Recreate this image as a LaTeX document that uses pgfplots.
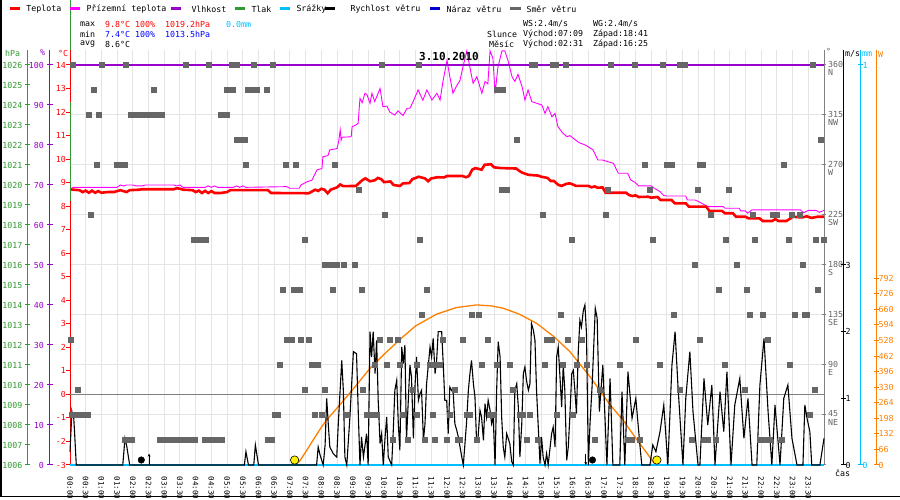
\documentclass[border=0pt]{standalone}
\usepackage{fontspec}
\setmainfont{DejaVu Sans Mono}
\usepackage{pgfplots}
\pgfplotsset{compat=1.18}
\usetikzlibrary{arrows.meta}
\definecolor{tred}{RGB}{255,0,0}
\definecolor{tmag}{RGB}{255,0,255}
\definecolor{tpur}{RGB}{153,0,204}
\definecolor{tgreen}{RGB}{51,153,51}
\definecolor{tcyan}{RGB}{0,191,255}
\definecolor{tblue}{RGB}{0,0,204}
\definecolor{minblue}{RGB}{0,0,255}
\definecolor{torange}{RGB}{255,128,0}
\definecolor{sqgrey}{RGB}{102,102,102}
\definecolor{gridgrey}{RGB}{228,228,228}
\definecolor{axgrey}{RGB}{128,128,128}
\definecolor{dirtext}{RGB}{100,100,100}
\newcommand{\fs}{\fontsize{8.3}{8.6}\selectfont}
\newcommand{\fx}{\fontsize{7.5}{8}\selectfont}
\pgfplotsset{
  base/.style={scale only axis, height=415pt, xmin=0, xmax=24,
    every tick label/.append style={font=\fs},
    tick align=center, major tick length=6pt},
  hid/.style={base, width=754pt, at={(70pt,35pt)}, anchor=south west, hide axis, clip=false},
  narrow/.style={base, width=10pt, xmin=0, xmax=1, axis x line=none, clip=false},
}
\begin{document}
\begin{tikzpicture}[x=1pt,y=1pt,font=\fs]
\useasboundingbox (0,0) rectangle (900,500);
\fill[white] (0,0) rectangle (900,500);
\draw[black, line width=1.5pt] (0.75,500) -- (0.75,3.5) -- (900,3.5);

% ---------- direction axis: horizontal grid + right grey axis
\begin{axis}[base, width=754pt, at={(70pt,35pt)}, anchor=south west,
  ymin=0, ymax=373.5, axis x line=none, axis y line*=right,
  ytick={0,45,90,135,180,225,270,315,360},
  yticklabels={,{45\\NE},{90\\E},{135\\SE},{180\\S},{225\\SW},{270\\W},{315\\NW},{360\\N}},
  ymajorgrids, major grid style={gridgrey, line width=1pt},
  y axis line style={axgrey, line width=1pt}, ytick style={axgrey, line width=1pt},
  major tick length=4pt,
  yticklabel style={text=dirtext, align=left, anchor=north west, inner sep=0pt, xshift=2pt, yshift=4.3pt}]
\end{axis}

% ---------- temperature axis: vertical grid, red axis, time labels
\begin{axis}[base, width=754pt, at={(70pt,35pt)}, anchor=south west,
  ymin=-3, ymax=14.6375, axis y line*=left, axis x line*=bottom,
  x axis line style={draw=none}, xtick style={draw=none},
  xtick={0,0.5,...,23.5},
  xticklabels={00:00,00:30,01:00,01:30,02:00,02:30,03:00,03:30,04:00,04:30,05:00,05:30,06:00,06:30,07:00,07:30,08:00,08:30,09:00,09:30,10:00,10:30,11:00,11:30,12:00,12:30,13:00,13:30,14:00,14:30,15:00,15:30,16:00,16:30,17:00,17:30,18:00,18:30,19:00,19:30,20:00,20:30,21:00,21:30,22:00,22:30,23:00,23:30},
  xticklabel style={font=\fx, rotate=-90, anchor=west, inner sep=0pt, xshift=7.5pt},
  xmajorgrids, major grid style={gridgrey, line width=1pt},
  ytick={-3,-2,-1,0,1,2,3,4,5,6,7,8,9,10,11,12,13,14},
  yticklabels={-3,-2,-1,0,1,2,3,4,5,6,7,8,9,10,11,12,13,14},
  tick align=outside, major tick length=4pt,
  y axis line style={tred, line width=1pt}, ytick style={tred, line width=1pt},
  yticklabel style={text=tred, inner sep=0pt, anchor=east}]
\addplot[axgrey, line width=1pt] coordinates {(0,0) (24,0)};
\end{axis}

% ---------- solar radiation (W)
\begin{axis}[hid, ymin=0, ymax=1760.5]
\addplot[torange, line width=1.3pt] coordinates {(7.15,0) (7.3,15) (7.5,55) (7.74,106) (8.0,160) (8.17,191) (8.49,240) (9.0,320) (9.55,410) (10.0,470) (10.6,544) (11.0,590) (11.67,640) (12.3,668) (12.94,679) (13.4,675) (13.79,665) (14.3,640) (14.85,601) (15.4,545) (15.91,481) (16.55,375) (17.19,255) (17.6,191) (18.05,106) (18.36,51) (18.55,15) (18.68,0)};
\end{axis}

% ---------- precipitation (mm)
\begin{axis}[hid, ymin=0, ymax=1.0375]
\addplot[tcyan, line width=2pt] coordinates {(0,0) (24,0)};
\end{axis}

% ---------- wind speed (m/s)
\begin{axis}[hid, ymin=0, ymax=6.225]
\addplot[black, line width=1.1pt, line join=miter] coordinates {
(0,0.2) (0.06,0.8) (0.09,0.72) (0.12,0.7) (0.15,0.45) (0.2,0) (1.68,0) (1.75,0.4) (1.8,0.3) (1.9,0) (5.55,0) (5.6,0.2) (5.68,0) (5.85,0) (5.9,0.3) (6.0,0) (7.85,0) (7.9,0.27) (7.96,0.15) (8.06,0) (8.12,0.3) (8.17,1.0) (8.22,0.62) (8.27,0.27) (8.38,0.17) (8.49,0.12) (8.54,0.62) (8.65,1.57) (8.7,1.12) (8.75,0.12) (8.81,0) (8.91,0.72) (9.02,1.7) (9.12,1.67) (9.18,0.72) (9.23,0) (9.28,0.42) (9.34,0.12) (9.44,0.47) (9.49,0) (9.55,2.0) (9.6,1.62) (9.65,2.0) (9.71,1.37) (9.76,1.87) (9.81,0.97) (9.87,0.32) (9.92,0.47) (9.97,0) (10.03,0.42) (10.08,0.72) (10.13,0.12) (10.24,0) (10.29,0.52) (10.34,1.12) (10.4,1.27) (10.45,0.62) (10.5,0.22) (10.56,1.77) (10.61,1.52) (10.66,1.8) (10.71,0.37) (10.82,1.5) (10.87,1.32) (10.93,0.4) (10.98,1.17) (11.03,1.62) (11.09,0.97) (11.14,1.07) (11.19,1.12) (11.25,0.37) (11.3,0.62) (11.35,1.22) (11.46,1.77) (11.51,1.62) (11.56,1.9) (11.62,1.37) (11.67,1.57) (11.72,2.0) (11.83,2.0) (11.88,1.52) (11.93,0.97) (11.99,0.97) (12.04,0.47) (12.09,1.17) (12.15,1.12) (12.2,1.07) (12.25,0.62) (12.31,0.52) (12.36,0.42) (12.47,0.12) (12.52,0) (12.62,0.62) (12.68,1.12) (12.73,1.37) (12.78,1.57) (12.84,1.22) (12.89,1.02) (12.94,0.37) (12.99,0.42) (13.05,0.82) (13.1,0.72) (13.16,0.37) (13.21,0.92) (13.26,0.72) (13.31,0.97) (13.37,0.82) (13.42,0.62) (13.47,0.72) (13.53,0) (13.58,1.12) (13.63,1.85) (13.69,1.62) (13.74,0.72) (13.79,0.27) (13.84,0.12) (13.9,0.47) (14.0,0.32) (14.06,0.05) (14.11,0) (14.16,1.12) (14.22,1.22) (14.27,0.87) (14.32,0.12) (14.38,0.62) (14.43,1.37) (14.48,1.47) (14.53,1.27) (14.59,1.12) (14.64,1.22) (14.69,2.12) (14.75,2.02) (14.8,1.87) (14.85,1.12) (14.9,0.62) (14.96,0.02) (15.01,0.42) (15.06,0.12) (15.12,0) (15.17,0.17) (15.22,0) (15.33,0.47) (15.38,0.57) (15.44,0.27) (15.49,1.62) (15.54,1.77) (15.59,1.37) (15.65,0.87) (15.7,1.5) (15.75,1.12) (15.81,0.07) (15.86,0.27) (15.91,0.72) (15.97,1.37) (16.02,1.42) (16.07,1.12) (16.12,0.77) (16.18,1.72) (16.23,2.17) (16.28,2.07) (16.34,2.32) (16.39,2.4) (16.44,1.97) (16.5,0) (16.55,0.6) (16.62,1.2) (16.72,2.35) (16.78,2.2) (16.85,0.8) (16.96,1.5) (17.09,0) (17.19,1.3) (17.28,0) (17.5,0) (17.57,1.1) (17.66,0) (17.76,1.4) (17.89,0.7) (18.01,1.0) (18.14,0.3) (18.2,0) (18.46,0) (18.55,0.3) (18.65,0.2) (18.78,0.5) (18.9,0.9) (19.03,0) (19.16,1.5) (19.26,2.0) (19.35,1.2) (19.51,0) (19.6,1.0) (19.73,1.7) (19.83,0.8) (19.99,0) (20.05,0) (20.18,1.3) (20.3,0.6) (20.43,1.2) (20.53,0) (20.69,1.1) (20.81,0.5) (20.91,1.4) (21.04,0) (21.16,0.9) (21.32,1.3) (21.45,0.4) (21.58,1.0) (21.71,0) (21.86,0) (21.96,1.2) (22.09,1.9) (22.22,0.8) (22.34,0) (22.44,0.9) (22.6,0) (22.72,1.0) (22.85,1.2) (22.98,0.4) (23.14,0) (23.33,0) (23.39,0.9) (23.46,0.7) (23.55,0.5) (23.61,0) (23.87,0) (24.0,0.4)};
% moon rise / set
\addplot[only marks, mark=*, mark size=3.3pt, black] coordinates {(2.27,0.075) (16.63,0.075)};
\addplot[black, line width=0.7pt, -{Stealth[length=3pt,width=3pt]}] coordinates {(2.517,0) (2.517,0.17)};
\addplot[black, line width=0.7pt, -{Stealth[length=3pt,width=3pt]}] coordinates {(16.417,0.17) (16.417,0)};
\end{axis}

% ---------- temperatures
\begin{axis}[hid, ymin=-3, ymax=14.6375]
\addplot[tmag, line width=0.9pt] coordinates {
(0,8.72) (0.1,8.8) (1.5,8.8) (1.6,8.9) (1.7,8.86) (1.8,8.9) (2.0,8.9) (2.1,8.86) (2.3,8.86) (2.4,8.9) (3.3,8.9) (3.4,8.86) (3.5,8.9) (3.6,8.8) (4.3,8.8) (4.4,8.86) (4.5,8.8) (4.6,8.86) (4.7,8.8) (5.2,8.8) (5.3,8.86) (5.4,8.8) (5.5,8.86) (5.6,8.8) (6.9,8.83) (7.0,8.76) (7.3,8.76) (7.35,8.9) (7.55,9.04) (7.7,9.1) (7.86,9.54) (8.02,9.6) (8.05,10.1) (8.21,10.15) (8.27,10.39) (8.5,10.45) (8.55,10.74) (8.6,11.24) (8.63,10.8) (8.66,10.93) (8.95,10.95) (8.98,11.38) (9.1,11.45) (9.17,11.52) (9.23,12.58) (9.3,12.4) (9.39,12.8) (9.45,12.75) (9.55,12.37) (9.61,12.8) (9.7,12.45) (9.87,13.0) (9.96,12.23) (10.09,12.25) (10.18,12.0) (10.34,11.87) (10.44,12.05) (10.6,11.85) (10.73,12.16) (10.82,12.16) (10.92,12.44) (11.08,12.94) (11.23,12.5) (11.36,12.94) (11.52,12.51) (11.68,12.8) (11.78,12.51) (11.87,13.29) (12.0,14.2) (12.09,13.5) (12.19,12.8) (12.32,13.15) (12.41,13.33) (12.51,13.93) (12.63,14.6) (12.67,14.3) (12.83,13.22) (12.95,13.5) (13.11,12.8) (13.21,13.3) (13.3,13.2) (13.37,14.6) (13.46,14.3) (13.53,12.8) (13.62,13.9) (13.75,14.6) (13.84,14.6) (13.94,14.2) (14.07,13.5) (14.16,13.3) (14.26,13.6) (14.39,13.08) (14.48,12.51) (14.58,12.94) (14.7,12.44) (14.86,12.37) (15.02,12.3) (15.12,11.94) (15.21,12.23) (15.34,11.8) (15.44,11.94) (15.53,11.38) (15.69,11.1) (15.82,10.95) (15.91,11.0) (16.2,10.7) (16.4,10.6) (16.65,10.39) (16.8,9.96) (16.95,9.96) (17.3,9.82) (17.45,9.4) (17.75,9.4) (17.85,9.11) (18.0,9.0) (18.1,8.86) (18.5,8.86) (18.6,8.76) (18.78,8.62) (18.9,8.45) (19.0,8.43) (19.6,8.43) (19.65,8.26) (19.9,8.26) (20.0,8.2) (20.3,7.98) (20.8,7.98) (20.85,7.91) (21.3,7.91) (21.35,7.8) (21.5,7.8) (21.57,7.7) (21.7,7.84) (23.25,7.84) (23.35,7.72) (23.5,7.82) (23.75,7.82) (23.85,7.74) (24.0,7.82)};
\addplot[tred, line width=2.6pt] coordinates {
(0,8.72) (0.1,8.7) (0.3,8.68) (0.4,8.6) (0.5,8.66) (0.6,8.57) (0.7,8.66) (0.8,8.57) (0.9,8.64) (1.0,8.57) (1.2,8.6) (1.4,8.6) (1.6,8.68) (1.8,8.6) (1.9,8.68) (2.2,8.7) (2.3,8.72) (3.3,8.72) (3.4,8.76) (3.5,8.74) (3.6,8.7) (3.9,8.68) (4.0,8.6) (4.1,8.66) (4.2,8.56) (4.3,8.65) (4.4,8.56) (4.5,8.64) (4.6,8.56) (4.8,8.56) (5.0,8.6) (5.1,8.68) (6.3,8.68) (6.4,8.56) (7.6,8.55) (7.7,8.62) (7.8,8.7) (7.9,8.65) (8.0,8.74) (8.1,8.7) (8.2,8.55) (8.3,8.7) (8.5,8.8) (8.6,8.92) (8.7,8.85) (9.1,8.86) (9.3,9.1) (9.4,9.18) (9.55,9.06) (9.7,9.1) (9.8,9.2) (9.9,9.15) (10.0,9.02) (10.2,9.05) (10.3,8.9) (10.5,8.86) (10.6,8.97) (10.8,8.98) (10.9,9.15) (11.1,9.25) (11.3,9.18) (11.4,9.06) (11.5,9.18) (11.7,9.23) (11.9,9.22) (12.0,9.28) (12.5,9.28) (12.6,9.23) (12.7,9.28) (12.8,9.55) (12.9,9.62) (13.1,9.55) (13.2,9.76) (13.4,9.78) (13.5,9.65) (13.7,9.62) (14.2,9.6) (14.3,9.5) (14.4,9.42) (14.6,9.33) (14.9,9.3) (15.0,9.25) (15.2,9.2) (15.3,9.07) (15.4,9.07) (15.55,8.9) (15.65,8.86) (15.8,8.95) (15.9,8.97) (16.05,8.9) (16.1,8.86) (16.5,8.86) (16.6,8.8) (16.7,8.84) (16.8,8.78) (16.95,8.8) (17.05,8.57) (17.7,8.57) (17.8,8.47) (17.9,8.43) (18.0,8.46) (18.1,8.39) (18.4,8.4) (18.5,8.36) (18.7,8.39) (18.8,8.26) (19.15,8.26) (19.25,8.12) (19.6,8.12) (19.7,7.98) (20.25,7.98) (20.35,7.8) (20.75,7.8) (20.85,7.7) (21.1,7.7) (21.2,7.55) (21.5,7.55) (21.6,7.48) (21.95,7.48) (22.05,7.37) (22.35,7.37) (22.45,7.45) (22.55,7.37) (22.8,7.37) (22.9,7.45) (23.0,7.55) (23.3,7.52) (23.45,7.57) (23.6,7.5) (23.8,7.55) (24.0,7.55)};
\end{axis}

% ---------- humidity
\begin{axis}[hid, ymin=0, ymax=103.75]
\addplot[tpur, line width=2.6pt] coordinates {(0,100) (24,100)};
\end{axis}

% ---------- pressure (green mark at the left edge)
\begin{axis}[hid, ymin=1006, ymax=1026.75]
\addplot[tgreen, line width=1pt] coordinates {(0,1019.2) (0,1024.15)};
\addplot[tgreen, line width=1pt] coordinates {(0,1026.75) (0,1029.3)};
\end{axis}

% ---------- wind direction squares
\begin{axis}[hid, ymin=0, ymax=373.5]
\addplot[only marks, mark=square*, mark size=2.5pt, sqgrey] coordinates {
(0.095,360) (1.02,360) (1.78,360) (3.69,360) (4.42,360) (5.16,360) (5.25,360) (5.31,360) (5.86,360) (6.46,360) (9.93,360) (11.11,360) (14.70,360) (14.80,360) (15.37,360) (15.47,360) (15.79,360) (17.22,360) (17.98,360) (18.87,360) (19.41,360) (19.51,360) (19.57,360) (23.65,360)
(0.76,337.5) (2.67,337.5) (5.0,337.5) (5.09,337.5) (5.19,337.5) (5.67,337.5) (5.76,337.5) (5.82,337.5) (5.95,337.5) (6.27,337.5) (13.59,337.5) (13.69,337.5) (13.78,337.5)
(0.60,315) (0.92,315) (1.94,315) (2.04,315) (2.13,315) (2.23,315) (2.32,315) (2.42,315) (2.51,315) (2.61,315) (2.70,315) (2.80,315) (2.93,315) (4.81,315) (4.90,315) (5.0,315)
(5.32,292.5) (5.44,292.5) (5.57,292.5) (14.23,292.5) (23.9,292.5)
(0.86,270) (1.50,270) (1.62,270) (1.75,270) (5.6,270) (6.87,270) (7.19,270) (8.43,270) (18.3,270) (19.0,270) (19.16,270) (20.05,270) (20.15,270) (22.72,270)
(9.2,247.5) (13.75,247.5) (13.9,247.5) (17.12,247.5) (18.46,247.5) (19.99,247.5) (20.97,247.5)
(0.67,225) (10.03,225) (15.05,225) (17.06,225) (20.4,225) (21.74,225) (22.37,225) (22.5,225) (22.98,225) (23.23,225)
(3.95,202.5) (4.07,202.5) (4.2,202.5) (4.33,202.5) (15.98,202.5) (18.55,202.5) (20.88,202.5) (21.8,202.5) (22.88,202.5) (23.74,202.5) (24.0,202.5) (7.48,202.5) (11.14,202.5)
(19.89,180) (21.23,180) (23.33,180) (8.12,180) (8.3,180) (8.49,180) (8.7,180) (9.07,180)
(6.78,157.5) (7.13,157.5) (7.32,157.5) (8.37,157.5) (9.29,157.5) (11.36,157.5) (20.66,157.5) (21.55,157.5) (23.81,157.5)
(11.2,135) (12.79,135) (13.02,135) (15.63,135) (19.22,135) (21.64,135) (22.06,135) (23.07,135) (23.39,135) (23.46,135)
(0.03,112.5) (6.9,112.5) (7.07,112.5) (7.35,112.5) (7.61,112.5) (9.87,112.5) (10.18,112.5) (10.44,112.5) (11.87,112.5) (12.51,112.5) (13.3,112.5) (15.18,112.5) (15.34,112.5) (15.85,112.5) (16.3,112.5) (18.01,112.5) (20.05,112.5) (22.22,112.5)
(6.68,90) (7.7,90) (7.89,90) (9.71,90) (10.09,90) (10.5,90) (11.04,90) (11.46,90) (11.62,90) (11.78,90) (13.11,90) (13.59,90) (14.0,90) (15.12,90) (15.69,90) (16.14,90) (16.45,90) (17.5,90) (18.78,90) (20.85,90) (22.92,90)
(0.25,67.5) (7.48,67.5) (8.12,67.5) (9.33,67.5) (10.92,67.5) (12.25,67.5) (14.1,67.5) (16.87,67.5) (19.41,67.5) (21.48,67.5) (23.71,67.5)
(0.06,45) (0.25,45) (0.45,45) (0.57,45) (6.52,45) (6.62,45) (7.8,45) (8.02,45) (8.82,45) (9.45,45) (9.61,45) (9.77,45) (10.6,45) (11.04,45) (11.55,45) (12.09,45) (12.64,45) (12.73,45) (13.37,45) (13.46,45) (14.32,45) (14.42,45) (14.64,45) (15.5,45) (16.01,45) (23.55,45)
(1.75,22.5) (1.85,22.5) (1.97,22.5) (2.86,22.5) (2.96,22.5) (3.06,22.5) (3.17,22.5) (3.27,22.5) (3.37,22.5) (3.47,22.5) (3.56,22.5) (3.66,22.5) (3.72,22.5) (3.82,22.5) (3.98,22.5) (4.3,22.5) (4.42,22.5) (4.46,22.5) (4.6,22.5) (4.74,22.5) (4.84,22.5) (6.3,22.5) (6.43,22.5) (10.28,22.5) (10.76,22.5) (11.3,22.5) (11.62,22.5) (12.0,22.5) (12.35,22.5) (12.41,22.5) (12.95,22.5) (14.55,22.5) (14.9,22.5) (16.71,22.5) (17.76,22.5) (17.89,22.5) (18.14,22.5) (19.8,22.5) (20.21,22.5) (20.31,22.5) (20.56,22.5) (21.96,22.5) (22.12,22.5) (22.28,22.5) (22.66,22.5)};
\end{axis}

% ---------- sunrise / sunset
\begin{axis}[hid, ymin=0, ymax=1760.5]
\addplot[only marks, mark=*, mark size=4.2pt, mark options={fill=yellow, draw=black, line width=0.6pt}] coordinates {(7.15,21) (18.68,21)};
\end{axis}

% ---------- left scales
\begin{axis}[narrow, at={(28pt,35pt)}, anchor=south west, ymin=1006, ymax=1026.75, axis y line*=left,
  ytick={1006,1007,1008,1009,1010,1011,1012,1013,1014,1015,1016,1017,1018,1019,1020,1021,1022,1023,1024,1025,1026},
  yticklabels={1006,1007,1008,1009,1010,1011,1012,1013,1014,1015,1016,1017,1018,1019,1020,1021,1022,1023,1024,1025,1026},
  y axis line style={tgreen, line width=1pt}, ytick style={tgreen, line width=1pt},
  major tick length=5pt,
  yticklabel style={text=tgreen, inner sep=0pt, anchor=east, xshift=-3pt}]
\end{axis}
\begin{axis}[narrow, at={(50pt,35pt)}, anchor=south west, ymin=0, ymax=103.75, axis y line*=left,
  ytick={0,10,20,30,40,50,60,70,80,90,100},
  yticklabels={0,10,20,30,40,50,60,70,80,90,100},
  y axis line style={tpur, line width=1pt}, ytick style={tpur, line width=1pt},
  major tick length=6pt,
  yticklabel style={text=tpur, inner sep=0pt, anchor=east, xshift=-3pt}]
\end{axis}

% ---------- right scales
\begin{axis}[narrow, at={(843pt,35pt)}, anchor=south east, ymin=0, ymax=6.225, axis y line*=right,
  ytick={0,1,2,3}, yticklabels={0,1,2,3},
  y axis line style={black, line width=1pt}, ytick style={black, line width=1pt},
  major tick length=5pt,
  yticklabel style={text=black, inner sep=0pt, anchor=west, xshift=0pt}]
\end{axis}
\begin{axis}[narrow, at={(860pt,35pt)}, anchor=south east, ymin=0, ymax=1.0375, axis y line*=right,
  ytick={0,1}, yticklabels={0,1},
  y axis line style={tcyan, line width=1pt}, ytick style={tcyan, line width=1pt},
  major tick length=5pt,
  yticklabel style={text=tcyan, inner sep=0pt, anchor=west, xshift=0pt}]
\end{axis}
\begin{axis}[narrow, at={(876pt,35pt)}, anchor=south east, ymin=0, ymax=1760.5, axis y line*=right,
  ytick={0,66,132,198,264,330,396,462,528,594,660,726,792},
  yticklabels={0,66,132,198,264,330,396,462,528,594,660,726,792},
  y axis line style={torange, line width=1pt}, ytick style={torange, line width=1pt},
  major tick length=5pt,
  yticklabel style={text=torange, inner sep=0pt, anchor=west, xshift=0pt}]
\end{axis}

% ---------- units
\node[anchor=west, inner sep=0pt, text=tgreen] at (5,447) {hPa};
\node[anchor=west, inner sep=0pt, text=tpur] at (40,447) {\%};
\node[anchor=west, inner sep=0pt, text=tred] at (58,447) {°C};
\node[anchor=west, inner sep=0pt, text=dirtext] at (826,449) {°};
\node[anchor=west, inner sep=0pt, text=black] at (845,446) {m/s};
\node[anchor=west, inner sep=0pt, text=tcyan] at (862,446) {mm};
\node[anchor=west, inner sep=0pt, text=torange] at (878,446) {W};
\node[anchor=west, inner sep=0pt, text=black] at (835,27) {čas};

% ---------- title
\node[inner sep=0pt, font={\fontsize{11}{12}\selectfont\bfseries}] at (449,443) {3.10.2010};

% ---------- legend
\begin{scope}[line width=3pt]
\draw[tred] (10,491)--(20,491);   \node[anchor=west,inner sep=0pt] at (25,491) {Teplota};
\draw[tmag] (70,491)--(80,491);   \node[anchor=west,inner sep=0pt] at (85,491) {Přízemní teplota};
\draw[tpur] (171,491)--(181,491); \node[anchor=west,inner sep=0pt] at (190,491) {Vlhkost};
\draw[tgreen] (235,491)--(245,491); \node[anchor=west,inner sep=0pt] at (250,491) {Tlak};
\draw[tcyan] (280,491)--(290,491); \node[anchor=west,inner sep=0pt] at (295,491) {Srážky};
\draw[black] (325,491)--(335,491); \node[anchor=west,inner sep=0pt] at (349,491) {Rychlost větru};
\draw[tblue] (430,491)--(440,491); \node[anchor=west,inner sep=0pt] at (445,491) {Náraz větru};
\draw[sqgrey] (510,491)--(521,491); \node[anchor=west,inner sep=0pt] at (525,491) {Směr větru};
\end{scope}

% ---------- header statistics
\node[anchor=west,inner sep=0pt] at (80,476) {max};
\node[anchor=west,inner sep=0pt,text=tred] at (105,476) {9.8°C 100\%};
\node[anchor=west,inner sep=0pt,text=tred] at (165,476) {1019.2hPa};
\node[anchor=west,inner sep=0pt,text=tcyan] at (226,476) {0.0mm};
\node[anchor=west,inner sep=0pt] at (80,466) {min};
\node[anchor=west,inner sep=0pt,text=minblue] at (105,466) {7.4°C 100\%};
\node[anchor=west,inner sep=0pt,text=minblue] at (165,466) {1013.5hPa};
\node[anchor=west,inner sep=0pt] at (80,456) {avg};
\node[anchor=west,inner sep=0pt] at (105,456) {8.6°C};

\node[anchor=west,inner sep=0pt] at (523,476) {WS:2.4m/s};
\node[anchor=west,inner sep=0pt] at (593,476) {WG:2.4m/s};
\node[anchor=west,inner sep=0pt] at (487,466) {Slunce};
\node[anchor=west,inner sep=0pt] at (523,466) {Východ:07:09};
\node[anchor=west,inner sep=0pt] at (593,466) {Západ:18:41};
\node[anchor=west,inner sep=0pt] at (489,456) {Měsíc};
\node[anchor=west,inner sep=0pt] at (523,456) {Východ:02:31};
\node[anchor=west,inner sep=0pt] at (593,456) {Západ:16:25};
\end{tikzpicture}
\end{document}
